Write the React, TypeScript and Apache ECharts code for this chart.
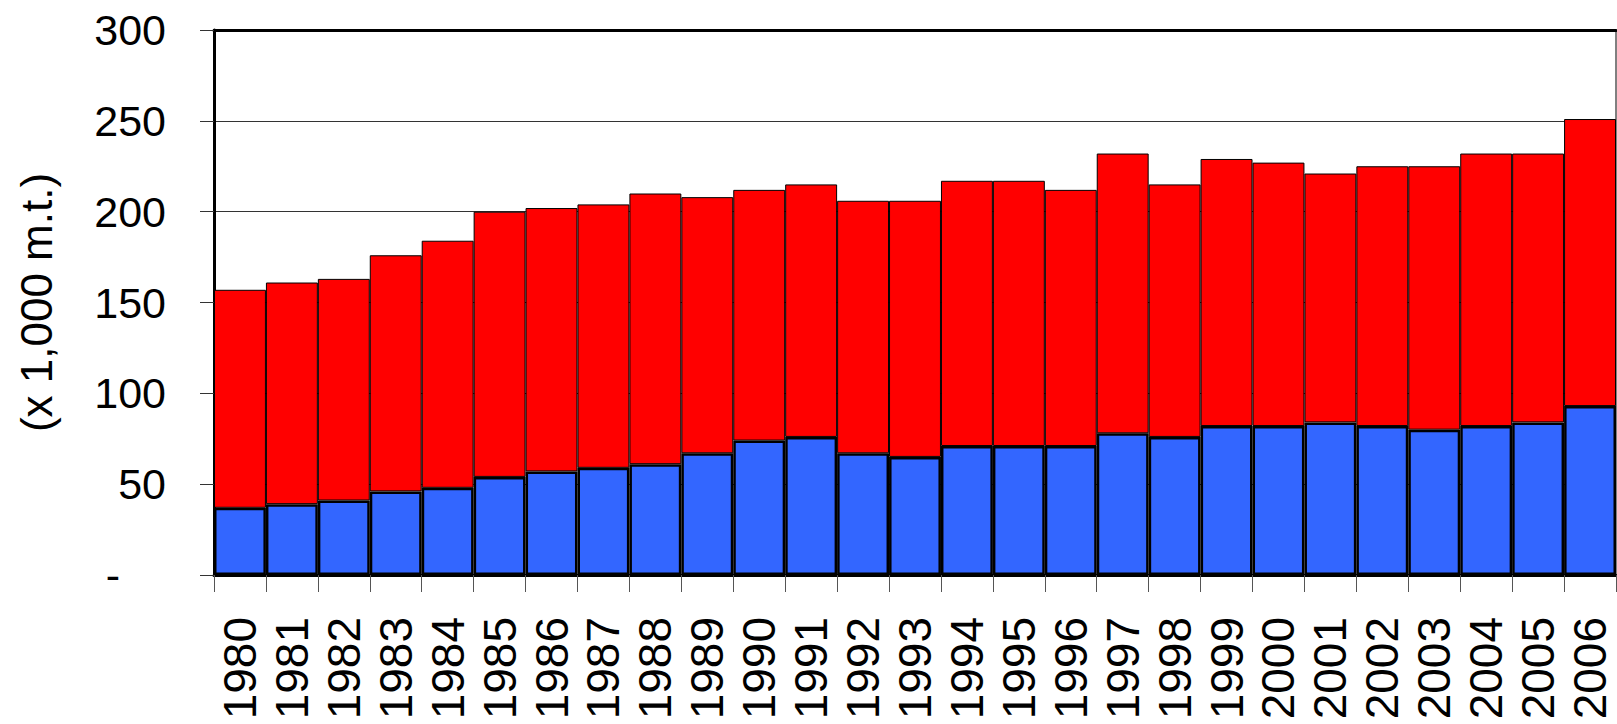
import React, { useEffect, useRef } from "react";
import * as echarts from "echarts";

const years = [
  "1980", "1981", "1982", "1983", "1984", "1985", "1986", "1987", "1988", "1989",
  "1990", "1991", "1992", "1993", "1994", "1995", "1996", "1997", "1998", "1999",
  "2000", "2001", "2002", "2003", "2004", "2005", "2006",
];

// lower (blue) segment
const blueValues = [
  37, 39, 41, 46, 48, 54, 57, 59, 61, 67,
  74, 76, 67, 65, 71, 71, 71, 78, 76, 82,
  82, 84, 82, 80, 82, 84, 93,
];

// upper (red) segment
const redValues = [
  120, 122, 122, 130, 136, 146, 145, 145, 149, 141,
  138, 139, 139, 141, 146, 146, 141, 154, 139, 147,
  145, 137, 143, 145, 150, 148, 158,
];

const yAxisName = "(x 1,000 m.t.)";
const FONT = "'Liberation Sans', Arial, sans-serif";

export default function App() {
  const ref = useRef<HTMLDivElement>(null);

  useEffect(() => {
    document.body.style.margin = "0";
    if (!ref.current) return;
    const chart = echarts.init(ref.current, null, { renderer: "svg" });
    chart.setOption({
      animation: false,
      backgroundColor: "#ffffff",
      textStyle: { fontFamily: FONT },
      grid: {
        left: 214,
        right: 1,
        top: 30,
        bottom: 149,
        containLabel: false,
        outerBoundsMode: "none",
        show: true,
        borderColor: "#000",
        borderWidth: 1,
        backgroundColor: "transparent",
      },
      xAxis: [
        {
          type: "category",
          data: years,
          boundaryGap: true,
          position: "bottom",
          axisLine: { show: true, lineStyle: { color: "#000", width: 3 } },
          axisTick: {
            show: true,
            alignWithLabel: false,
            length: 17,
            lineStyle: { color: "#555", width: 1 },
          },
          axisLabel: {
            rotate: 90,
            margin: 42,
            fontSize: 46,
            color: "#000",
            fontFamily: FONT,
            interval: 0,
          },
          splitLine: { show: false },
        },
        {
          type: "category",
          data: years,
          position: "top",
          axisLine: { show: true, lineStyle: { color: "#000", width: 3 } },
          axisTick: { show: false },
          axisLabel: { show: false },
          splitLine: { show: false },
        },
      ],
      yAxis: {
        type: "value",
        min: 0,
        max: 300,
        interval: 50,
        name: yAxisName,
        nameLocation: "middle",
        nameRotate: 90,
        nameGap: 156,
        nameTextStyle: { fontSize: 44, color: "#000", fontFamily: FONT },
        axisLine: { show: true, lineStyle: { color: "#000", width: 3 } },
        axisTick: { show: true, length: 14, lineStyle: { color: "#333", width: 1 } },
        axisLabel: {
          margin: 48,
          fontSize: 43,
          color: "#000",
          fontFamily: FONT,
          formatter: (v: number) => (v === 0 ? "{d|-}" : String(v)),
          rich: {
            d: { fontSize: 43, color: "#000", fontFamily: FONT, padding: [0, 46, 0, 0] },
          },
        },
        splitLine: { show: true, lineStyle: { color: "#333", width: 1 } },
      },
      series: [
        {
          type: "bar",
          stack: "total",
          data: blueValues,
          barCategoryGap: "0%",
          itemStyle: { color: "#3366FF", borderColor: "#000", borderWidth: 2.5 },
          emphasis: { disabled: true },
        },
        {
          type: "bar",
          stack: "total",
          data: redValues,
          barCategoryGap: "0%",
          itemStyle: { color: "#FF0000", borderColor: "#000", borderWidth: 1 },
          emphasis: { disabled: true },
        },
      ],
    });
    return () => chart.dispose();
  }, []);

  return <div ref={ref} style={{ width: 1617, height: 724 }} />;
}
